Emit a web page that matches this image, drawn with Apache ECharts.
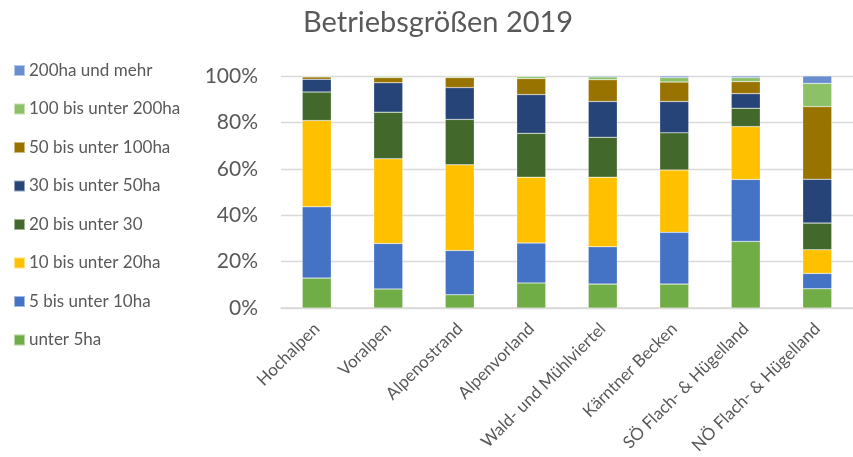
<!DOCTYPE html>
<html>
<head>
<meta charset="utf-8">
<script src="https://cdn.jsdelivr.net/npm/echarts@6/dist/echarts.min.js"></script>
<style>
  html, body { margin: 0; padding: 0; background: #fff; }
  #chart { width: 853px; height: 457px; }
</style>
</head>
<body>
<div id="chart"></div>
<script>
const categories = ['Hochalpen', 'Voralpen', 'Alpenostrand', 'Alpenvorland', 'Wald- und Mühlviertel', 'Kärntner Becken', 'SÖ Flach- & Hügelland', 'NÖ Flach- & Hügelland'];

// share of farms per size class, percent
const unter5 = [12.9, 8.2, 5.7, 10.8, 10.3, 10.3, 28.7, 8.3];
const bis10 = [30.7, 19.6, 19.1, 17.2, 16.1, 22.3, 26.7, 6.6];
const bis20 = [37.2, 36.5, 36.9, 28.4, 30.0, 26.9, 22.8, 10.2];
const bis30 = [12.3, 20.1, 19.6, 18.9, 17.2, 16.0, 7.9, 11.5];
const bis50 = [5.5, 12.7, 13.7, 16.7, 15.4, 13.5, 6.3, 18.9];
const bis100 = [1.0, 2.2, 4.3, 6.9, 9.4, 8.4, 5.2, 31.3];
const bis200 = [0.3, 0.5, 0.5, 0.9, 1.2, 1.9, 1.7, 10.0];
const ab200 = [0.1, 0.2, 0.2, 0.2, 0.4, 0.7, 0.7, 3.2];

const seriesNames = ['unter 5ha', '5 bis unter 10ha', '10 bis unter 20ha', '20 bis unter 30', '30 bis unter 50ha', '50 bis unter 100ha', '100 bis unter 200ha', '200ha und mehr'];
const seriesData = [unter5, bis10, bis20, bis30, bis50, bis100, bis200, ab200];
const colors = ['#70AD47', '#4472C4', '#FFC000', '#43682B', '#264478', '#997300', '#8CC168', '#698ED0'];

const yTicks = [0, 20, 40, 60, 80, 100];

const font = 'Lato, "Open Sans", sans-serif';
const textColor = '#595959';

const chart = echarts.init(document.getElementById('chart'));

chart.setOption({
  animation: false,
  color: colors,
  textStyle: { fontFamily: font },
  title: {
    text: 'Betriebsgrößen 2019',
    left: 298,
    top: 3,
    textStyle: { fontSize: 29, fontWeight: 'normal', color: textColor, fontFamily: font }
  },
  legend: {
    orient: 'vertical',
    left: 13,
    top: 62,
    padding: 0,
    itemWidth: 11,
    itemHeight: 11,
    itemGap: 21.5,
    icon: 'rect',
    data: seriesNames.slice().reverse(),
    textStyle: { fontSize: 17, lineHeight: 17, color: textColor, fontFamily: font, padding: [0, 0, 0, -1] }
  },
  grid: {
    left: 281,
    top: 76,
    width: 580,
    bottom: 149
  },
  xAxis: {
    type: 'category',
    data: categories,
    axisLine: { lineStyle: { color: '#D9D9D9', width: 1.5 } },
    axisTick: { show: false },
    axisLabel: {
      rotate: 45,
      interval: 0,
      margin: 18,
      fontSize: 17,
      color: textColor,
      fontFamily: font
    }
  },
  yAxis: {
    type: 'value',
    min: yTicks[0],
    max: yTicks[yTicks.length - 1],
    interval: yTicks[1] - yTicks[0],
    axisLine: { show: false },
    axisTick: { show: false },
    axisLabel: {
      formatter: v => v + '%',
      fontSize: 21,
      margin: 23,
      color: textColor,
      fontFamily: font
    },
    splitLine: { lineStyle: { color: '#D9D9D9', width: 1.3 } }
  },
  series: seriesNames.map((name, i) => ({
    name: name,
    type: 'bar',
    stack: 'total',
    barWidth: 29,
    data: seriesData[i],
    itemStyle: { borderColor: 'rgba(255,255,255,0.5)', borderWidth: 0.5 }
  }))
});
</script>
</body>
</html>
